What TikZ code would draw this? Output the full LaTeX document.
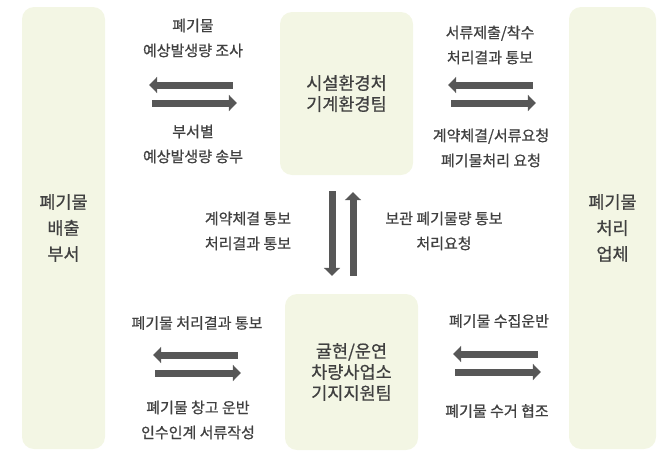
\documentclass[tikz,border=0pt]{standalone}
\usepackage{fontspec}
\newfontfamily\kr[FakeBold=0.7]{Noto Sans CJK KR}
\usetikzlibrary{arrows.meta}
\definecolor{boxgreen}{HTML}{F3F6E4}
\definecolor{arrowgray}{HTML}{575757}
\definecolor{textgray}{HTML}{404040}
\tikzset{
  box/.style={fill=boxgreen, rounded corners=12pt, align=center,
    text=textgray, font=\kr\fontsize{17.5}{21}\selectfont},
  note/.style={align=center, text=textgray,
    font=\kr\fontsize{15}{25}\selectfont},
  bigarrow/.style={draw=arrowgray, line width=7pt,
    -{Triangle[length=8pt,width=16pt]}}
}
\begin{document}
\begin{tikzpicture}[x=1pt, y=-1pt]
    \useasboundingbox (0,0) rectangle (663,453);
    % boxes
    \node[box, minimum width=83pt, minimum height=442pt,
      font=\kr\fontsize{17.5}{26}\selectfont] (left) at (63.5,228) {폐기물\\배출\\부서};
    \node[box, minimum width=87pt, minimum height=442pt,
      font=\kr\fontsize{17.5}{26}\selectfont] (right) at (612.5,228) {폐기물\\처리\\업체};
    \node[box, minimum width=133pt, minimum height=163pt] (top) at (346.5,93.5) {시설환경처\\기계환경팀};
    \node[box, minimum width=133pt, minimum height=156pt] (bot) at (351.5,372) {귤현/운연\\차량사업소\\기지지원팀};

    % labels
    \node[note] (tlup) at (193,38) {폐기물\\예상발생량 조사};
    \node[note] (tldown) at (193,144) {부서별\\예상발생량 송부};
    \node[note] (trup) at (490,45) {서류제출/착수\\처리결과 통보};
    \node[note] (trdown) at (491,148) {계약체결/서류요청\\폐기물처리 요청};
    \node[note] (midl) at (248,231) {계약체결 통보\\처리결과 통보};
    \node[note] (midr) at (444,231) {보관 폐기물량 통보\\처리요청};
    \node[note] (blup) at (197,323) {폐기물 처리결과 통보};
    \node[note] (bldown) at (198,420) {폐기물 창고 운반\\인수인계 서류작성};
    \node[note] (brup) at (499,321) {폐기물 수집운반};
    \node[note] (brdown) at (497,411) {폐기물 수거 협조};

    % arrows
    \coordinate (tl1) at ([yshift=8.5pt]top.west);
    \coordinate (tl2) at ([yshift=-9.5pt]top.west);
    \draw[bigarrow, shorten <=47pt, shorten >=44pt] (tl1) -- (tl1 -| left.east);
    \draw[bigarrow, shorten <=47pt, shorten >=43pt] (tl2 -| left.east) -- (tl2);

    \coordinate (tr1) at ([yshift=8.5pt]top.east);
    \coordinate (tr2) at ([yshift=-9.5pt]top.east);
    \draw[bigarrow, shorten <=36pt, shorten >=35pt] (tr1 -| right.west) -- (tr1);
    \draw[bigarrow, shorten <=38pt, shorten >=33pt] (tr2) -- (tr2 -| right.west);

    \coordinate (bl1) at ([yshift=17pt]bot.west);
    \coordinate (bl2) at ([yshift=-1pt]bot.west);
    \draw[bigarrow, shorten <=47pt, shorten >=48pt] (bl1) -- (bl1 -| left.east);
    \draw[bigarrow, shorten <=50pt, shorten >=44pt] (bl2 -| left.east) -- (bl2);

    \coordinate (br1) at ([yshift=18pt]bot.east);
    \coordinate (br2) at ([yshift=0pt]bot.east);
    \draw[bigarrow, shorten <=31pt, shorten >=35pt] (br1 -| right.west) -- (br1);
    \draw[bigarrow, shorten <=37pt, shorten >=28pt] (br2) -- (br2 -| right.west);

    \coordinate (v1) at ([xshift=-14.5pt]top.south);
    \coordinate (v2) at ([xshift=6.5pt]top.south);
    \draw[bigarrow, shorten <=16pt, shorten >=18pt] (v1) -- (v1 |- bot.north);
    \draw[bigarrow, shorten <=18pt, shorten >=17pt] (v2 |- bot.north) -- (v2);
\end{tikzpicture}
\end{document}
